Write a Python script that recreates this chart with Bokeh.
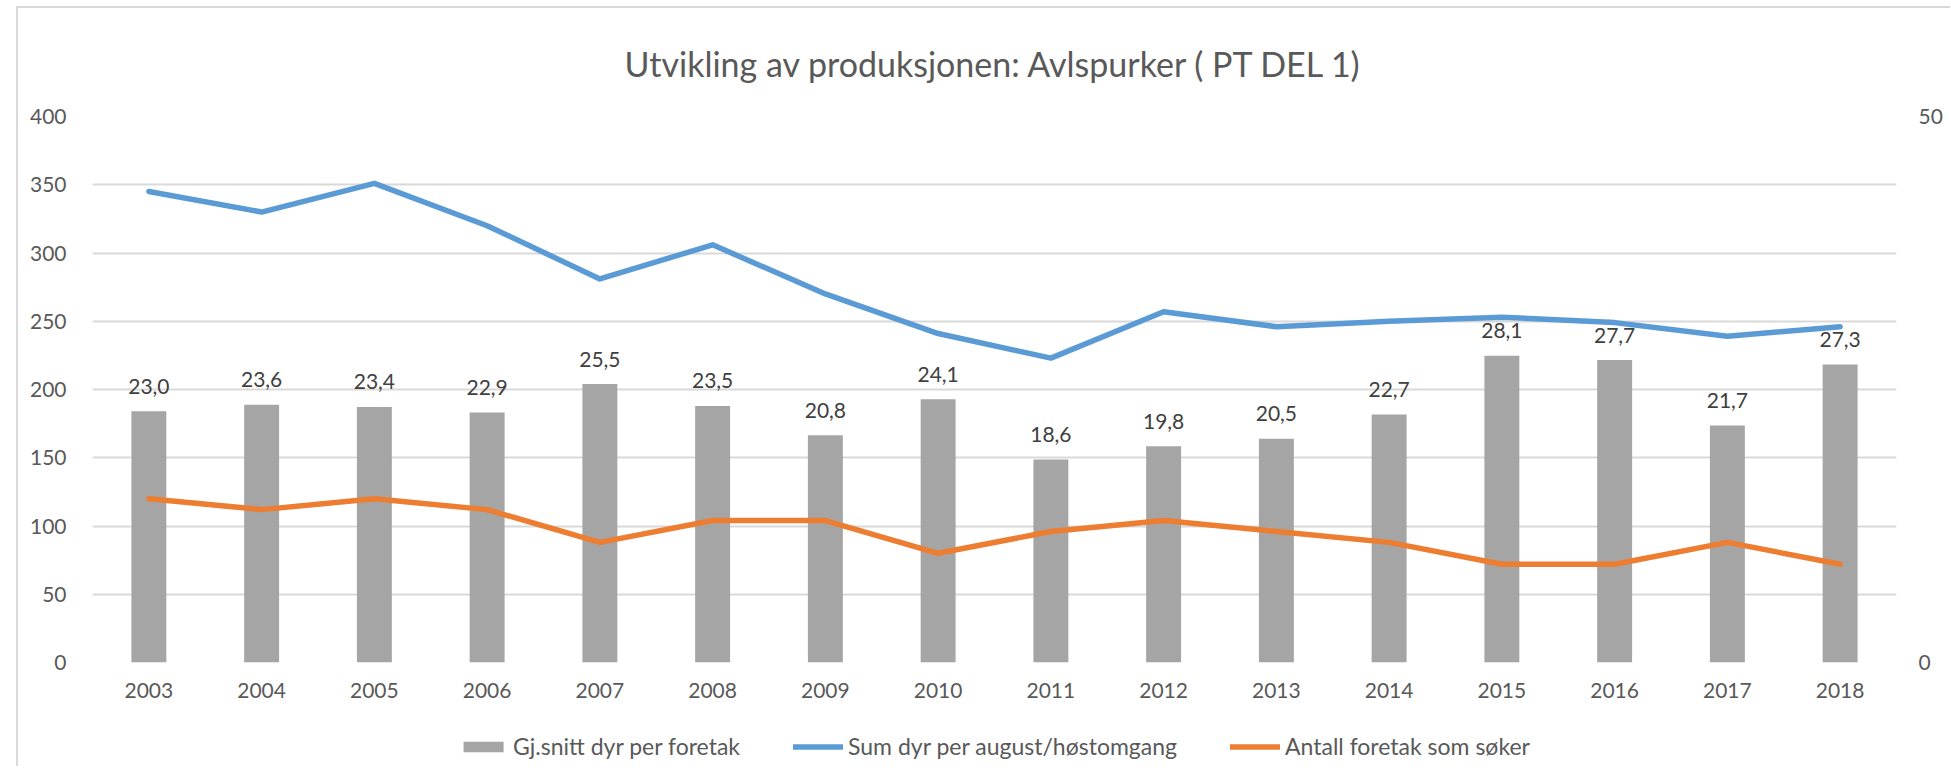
from bokeh.plotting import figure
from bokeh.models import (ColumnDataSource, Range1d, LinearAxis, FixedTicker, SingleIntervalTicker,
                          LabelSet, Legend, LegendItem, FactorRange, Div)
from bokeh.layouts import column, row
from bokeh.core.properties import value
from bokeh.embed import file_html
from bokeh.resources import INLINE

# ---- data ----
years = ["2003", "2004", "2005", "2006", "2007", "2008", "2009", "2010",
         "2011", "2012", "2013", "2014", "2015", "2016", "2017", "2018"]
avg_per_firm = [23.0, 23.6, 23.4, 22.9, 25.5, 23.5, 20.8, 24.1,
                18.6, 19.8, 20.5, 22.7, 28.1, 27.7, 21.7, 27.3]
sum_animals = [345, 330, 351, 320, 281, 306, 270, 241,
               223, 257, 246, 250, 253, 249, 239, 246]
n_firms = [15, 14, 15, 14, 11, 13, 13, 10, 12, 13, 12, 11, 9, 9, 11, 9]
bar_labels = [f"{v:.1f}".replace(".", ",") for v in avg_per_firm]

title_text = "Utvikling av produksjonen: Avlspurker ( PT DEL 1)"
series_names = ["Gj.snitt dyr per foretak", "Sum dyr per august/høstomgang", "Antall foretak som søker"]

FONT = "Lato"
TXT = "#595959"
GRID = "#d9d9d9"
GRAY = "#a5a5a5"
BLUE = "#5b9bd5"
ORANGE = "#ed7d31"
LW = 5.5

src = ColumnDataSource(dict(year=years, avg=avg_per_firm, total=sum_animals,
                            firms=n_firms, lab=bar_labels))

W = 1932
H1 = 718
H2 = 40
p = figure(x_range=FactorRange(*years), y_range=Range1d(0, 400),
           width=W, height=H1, output_backend="svg", toolbar_location=None,
           min_border_left=74, min_border_right=54, min_border_top=108, min_border_bottom=64,
           title=title_text)
p.outline_line_color = None

p.title.align = "center"
p.title.vertical_align = "middle"
p.title.text_font = FONT
p.title.text_font_size = "34px"
p.title.text_font_style = "normal"
p.title.text_color = TXT
p.title.standoff = 64

p.extra_y_ranges = {"right": Range1d(0, 50)}

# axes
p.yaxis.ticker = SingleIntervalTicker(interval=50)
right_axis = LinearAxis(y_range_name="right", ticker=FixedTicker(ticks=[0, 50]))
p.add_layout(right_axis, "right")

for ax in [p.xaxis[0], p.yaxis[0], right_axis]:
    ax.axis_line_color = None
    ax.major_tick_line_color = None
    ax.minor_tick_line_color = None
    ax.major_tick_out = 0
    ax.major_tick_in = 0
    ax.major_label_text_font = FONT
    ax.major_label_text_font_size = "21px"
    ax.major_label_text_color = TXT
    ax.major_label_standoff = 22
p.xaxis.major_label_standoff = 20

p.xgrid.grid_line_color = None
p.ygrid.grid_line_color = GRID
p.ygrid.grid_line_width = 2

bars = p.vbar(x="year", top="avg", width=0.31, source=src, y_range_name="right",
              fill_color=GRAY, line_color=None)
blue = p.line(x="year", y="total", source=src, line_width=LW, line_color=BLUE,
              line_cap="round", line_join="round")
orange = p.line(x="year", y="firms", source=src, y_range_name="right", line_width=LW,
                line_color=ORANGE, line_cap="round", line_join="round")

labels = LabelSet(x="year", y="avg", text="lab", source=src, y_range_name="right",
                  y_offset=25, text_align="center", text_baseline="middle",
                  text_font=value(FONT), text_font_size=value("21px"), text_color=value("#404040"))
p.add_layout(labels)

# ---- legend strip (separate figure so the main frame keeps its size) ----
p2 = figure(x_range=Range1d(0, 1), y_range=Range1d(0, 1), width=W, height=H2,
            output_backend="svg", toolbar_location=None,
            x_axis_type=None, y_axis_type=None,
            min_border_left=58, min_border_right=54, min_border_top=0, min_border_bottom=0)
p2.outline_line_color = None
p2.xgrid.grid_line_color = None
p2.ygrid.grid_line_color = None
# key renderers: one point far outside the visible range, only used for legend keys
key_src = ColumnDataSource(dict(x=[-10], y=[-10]))
k_bar = p2.vbar(x="x", top="y", width=0.1, source=key_src, fill_color=GRAY, line_color=None)
k_blue = p2.line(x="x", y="y", source=key_src, line_width=LW, line_color=BLUE, line_cap="round")
k_orange = p2.line(x="x", y="y", source=key_src, line_width=LW, line_color=ORANGE, line_cap="round")

legend = Legend(items=[LegendItem(label=series_names[0], renderers=[k_bar]),
                       LegendItem(label=series_names[1], renderers=[k_blue]),
                       LegendItem(label=series_names[2], renderers=[k_orange])],
                orientation="horizontal", location="center",
                glyph_width=50, glyph_height=13, label_standoff=5, spacing=53,
                label_text_font=FONT, label_text_font_size="23px", label_text_color=TXT,
                border_line_color=None, background_fill_alpha=0, margin=0, padding=0)
p2.add_layout(legend)

# ---- outer chart border (top and left, light gray) ----
def box(w, h, color=None):
    st = {"background-color": color} if color else {}
    return Div(text="", width=w, height=h, margin=0, styles=st)

top_line = box(W + 2, 2, GRID)
left_line = box(2, H1 + H2, GRID)

layout = column(
    box(10, 6),
    row(box(16, 10),
        column(top_line,
               row(left_line, column(p, p2, spacing=0), spacing=0),
               spacing=0),
        spacing=0),
    spacing=0)

open("out.html", "w").write(file_html(layout, INLINE))
